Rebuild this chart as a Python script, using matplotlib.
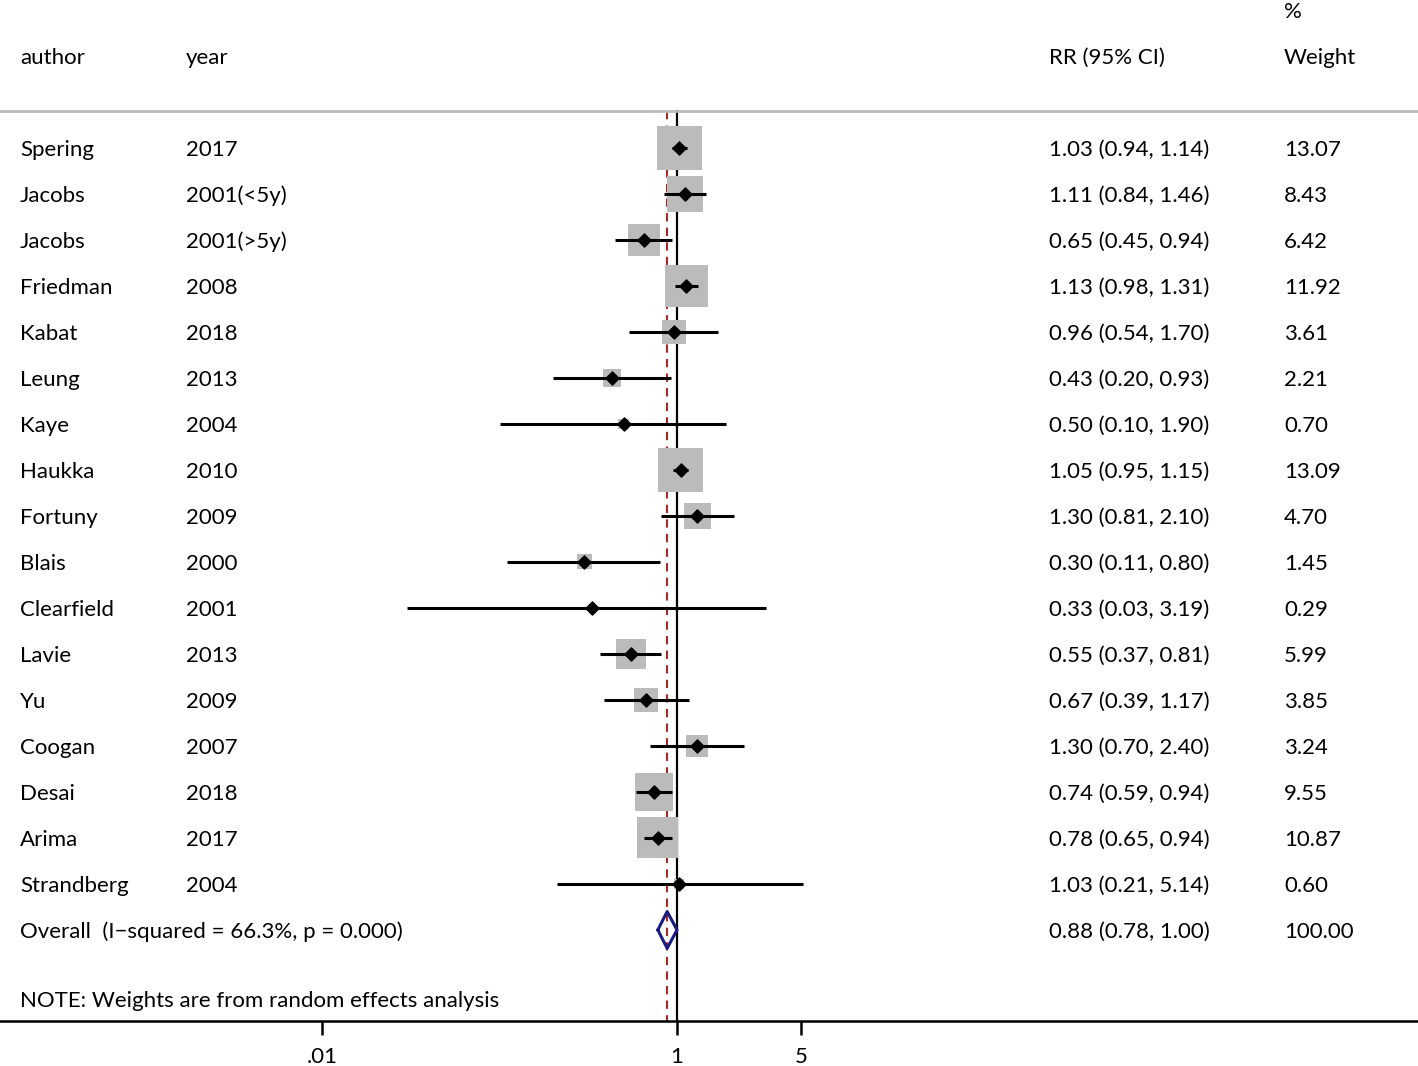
import numpy as np
import matplotlib
matplotlib.use('agg')
import matplotlib.pyplot as plt

authors = ['Spering', 'Jacobs', 'Jacobs', 'Friedman', 'Kabat', 'Leung', 'Kaye',
           'Haukka', 'Fortuny', 'Blais', 'Clearfield', 'Lavie', 'Yu', 'Coogan',
           'Desai', 'Arima', 'Strandberg']
years = ['2017', '2001(<5y)', '2001(>5y)', '2008', '2018', '2013', '2004',
         '2010', '2009', '2000', '2001', '2013', '2009', '2007', '2018', '2017', '2004']
rr = [1.03, 1.11, 0.65, 1.13, 0.96, 0.43, 0.50, 1.05, 1.30, 0.30, 0.33, 0.55,
      0.67, 1.30, 0.74, 0.78, 1.03]
lo = [0.94, 0.84, 0.45, 0.98, 0.54, 0.20, 0.10, 0.95, 0.81, 0.11, 0.03, 0.37,
      0.39, 0.70, 0.59, 0.65, 0.21]
hi = [1.14, 1.46, 0.94, 1.31, 1.70, 0.93, 1.90, 1.15, 2.10, 0.80, 3.19, 0.81,
      1.17, 2.40, 0.94, 0.94, 5.14]
weights = [13.07, 8.43, 6.42, 11.92, 3.61, 2.21, 0.70, 13.09, 4.70, 1.45, 0.29,
           5.99, 3.85, 3.24, 9.55, 10.87, 0.60]
overall = (0.88, 0.78, 1.00)
overall_label = 'Overall  (I\u2212squared = 66.3%, p = 0.000)'
xticks = [0.01, 1, 5]
xticklabels = ['.01', '1', '5']

plt.rcParams['font.family'] = ['Lato', 'DejaVu Sans']
fs = 16

fig = plt.figure(figsize=(14.18, 10.66), dpi=100)
ax = fig.add_axes([0, 45 / 1066, 1, 1021 / 1066])
ax.set_xscale('log')
ax.set_xlim(10 ** (-677 / 177.5), 10 ** ((1418 - 677) / 177.5))
ax.set_ylim(18.98, -3.217)

n = len(rr)
rows = np.arange(n)
top = -0.8

# reference lines
ax.plot([1, 1], [top, 18.98], color='black', lw=1.6, zorder=1)
ax.plot([overall[0], overall[0]], [top, 18.98], color='#a52a2a', lw=1.5,
        ls=(0, (4, 3)), zorder=1)
ax.axhline(top, color='#bbbbbb', lw=2, zorder=1)

# weight squares
ax.scatter(rr, rows, s=np.array(weights) * 79.7, marker='s', color='#bbbbbb',
           edgecolors='none', zorder=2)
ax.hlines(rows, lo, hi, color='black', lw=2.2, zorder=3)
ax.scatter(rr, rows, s=45, marker='D', color='black', zorder=4)

# overall diamond
yo = n
dx = [overall[1], overall[0], overall[2], overall[0], overall[1]]
dy = [yo, yo - 0.4, yo, yo + 0.4, yo]
ax.plot(dx, dy, color='#1a1a80', lw=2.2, zorder=4)

# text columns
xa, xy, xr, xw = 20 / 1418, 186 / 1418, 1049 / 1418, 1284 / 1418
tr = matplotlib.transforms.blended_transform_factory(ax.transAxes, ax.transData)
kw = dict(transform=tr, fontsize=fs, va='center_baseline')
ax.text(xa, -2, 'author', **kw)
ax.text(xy, -2, 'year', **kw)
ax.text(xr, -2, 'RR (95% CI)', **kw)
ax.text(xw, -2, 'Weight', **kw)
ax.text(xw, -3, '%', **kw)
for i in range(n):
    ax.text(xa, i, authors[i], **kw)
    ax.text(xy, i, years[i], **kw)
    ax.text(xr, i, '%.2f (%.2f, %.2f)' % (rr[i], lo[i], hi[i]), **kw)
    ax.text(xw, i, '%.2f' % weights[i], **kw)
ax.text(xa, yo, overall_label, **kw)
ax.text(xr, yo, '%.2f (%.2f, %.2f)' % overall, **kw)
ax.text(xw, yo, '100.00', **kw)
ax.text(xa, 18.5, 'NOTE: Weights are from random effects analysis', **kw)

for s in ['top', 'left', 'right']:
    ax.spines[s].set_visible(False)
ax.spines['bottom'].set_linewidth(1.8)
ax.set_yticks([])
ax.set_xticks(xticks)
ax.set_xticklabels(xticklabels, fontsize=fs)
ax.minorticks_off()
ax.tick_params(axis='x', length=10, width=1.8, pad=9)

fig.savefig('out.png', dpi=100)
